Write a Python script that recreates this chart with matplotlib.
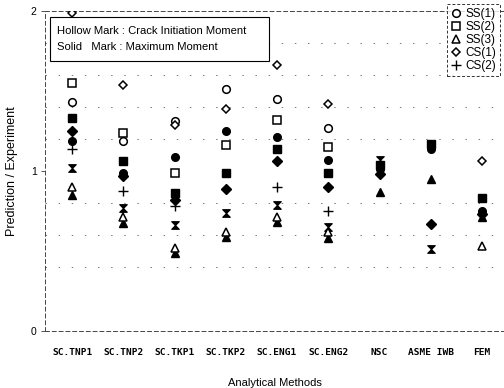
import numpy as np
import matplotlib
matplotlib.use("Agg")
import matplotlib.pyplot as plt
from matplotlib.path import Path
from matplotlib.patches import Rectangle

nan = np.nan
methods = ['SC.TNP1', 'SC.TNP2', 'SC.TKP1', 'SC.TKP2', 'SC.ENG1', 'SC.ENG2', 'NSC', 'ASME IWB', 'FEM']

# Hollow marks: crack initiation moment
hollow_ss1 = [1.43, 1.19, 1.31, 1.51, 1.45, 1.27, nan, nan, nan]
hollow_ss2 = [1.55, 1.24, 0.99, 1.16, 1.32, 1.15, nan, nan, nan]
hollow_ss3 = [0.90, 0.71, 0.52, 0.62, 0.71, 0.62, nan, nan, 0.53]
hollow_cs1 = [1.99, 1.54, 1.29, 1.39, 1.66, 1.42, nan, nan, 1.06]
hollow_cs2 = [1.14, 0.875, 0.78, nan, 0.90, 0.75, nan, nan, nan]

# Solid marks: maximum moment
solid_ss1 = [1.19, 0.99, 1.09, 1.25, 1.21, 1.07, 1.01, 1.14, 0.75]
solid_ss2 = [1.33, 1.06, 0.86, 0.99, 1.14, 0.99, 1.04, 1.17, 0.83]
solid_ss3 = [0.85, 0.675, 0.49, 0.59, 0.68, 0.58, 0.87, 0.95, 0.71]
solid_cs1 = [1.25, 0.97, 0.82, 0.89, 1.06, 0.90, 0.98, 0.67, 0.73]
solid_cs2 = [1.02, 0.77, 0.66, 0.74, 0.79, 0.65, 1.07, 0.51, nan]

legend_labels = ['SS(1)', 'SS(2)', 'SS(3)', 'CS(1)', 'CS(2)']

plt.rcParams['font.family'] = ['Liberation Sans', 'DejaVu Sans']

fig = plt.figure(figsize=(5.04, 3.88), dpi=100)
ax = fig.add_axes([45/504, 1-331/388, (504-45)/504, (331-11)/388])

x = np.arange(len(methods))

# hourglass marker for solid CS(2)
hourglass = Path([(-1, 1), (1, 1), (-1, -1), (1, -1), (-1, 1)],
                 [Path.MOVETO, Path.LINETO, Path.LINETO, Path.LINETO, Path.CLOSEPOLY])

ms = 5.5
# solid
ax.plot(x, solid_ss1, ls='none', marker='o', ms=ms, mfc='black', mec='black', zorder=3)
ax.plot(x, solid_ss2, ls='none', marker='s', ms=ms, mfc='black', mec='black', zorder=3)
ax.plot(x, solid_ss3, ls='none', marker='^', ms=ms, mfc='black', mec='black', zorder=3)
ax.plot(x, solid_cs1, ls='none', marker='D', ms=4.8, mfc='black', mec='black', zorder=3)
ax.plot(x, solid_cs2, ls='none', marker=hourglass, ms=5.5, mfc='black', mec='black', mew=0.8, zorder=3)

# hollow
h1, = ax.plot(x, hollow_ss1, ls='none', marker='o', ms=ms, mfc='white', mec='black', mew=1.1, zorder=4, label=legend_labels[0])
h2, = ax.plot(x, hollow_ss2, ls='none', marker='s', ms=ms, mfc='white', mec='black', mew=1.1, zorder=4, label=legend_labels[1])
h3, = ax.plot(x, hollow_ss3, ls='none', marker='^', ms=ms, mfc='white', mec='black', mew=1.1, zorder=4, label=legend_labels[2])
h4, = ax.plot(x, hollow_cs1, ls='none', marker='D', ms=4.4, mfc='white', mec='black', mew=1.1, zorder=4, label=legend_labels[3])
h5, = ax.plot(x, hollow_cs2, ls='none', marker='+', ms=6.5, mec='black', mew=1.0, zorder=4, label=legend_labels[4])

ax.set_xlim(-0.53, 8.43)
ax.set_ylim(0, 2)

# dotted grid lines
for gy in [0.4, 0.6, 0.8, 1.2, 1.4, 1.6, 1.8]:
    ax.axhline(gy, color='#777777', lw=0.7, ls=(0, (1.5, 12)), zorder=1)

ax.set_yticks([0, 1, 2])
ax.set_yticklabels(['0', '1', '2'], fontsize=7.5)
ax.set_xticks(x)
ax.set_xticklabels(methods, fontsize=6.8, family='DejaVu Sans Mono', fontweight='bold')
ax.tick_params(axis='x', length=0, pad=12)
ax.tick_params(axis='y', length=3, width=0.7, color='#555555', pad=3)

for side in ['left', 'top', 'bottom']:
    ax.spines[side].set_linestyle((0, (4, 3)))
    ax.spines[side].set_linewidth(0.7)
    ax.spines[side].set_color('#444444')
ax.spines['right'].set_visible(False)

ax.set_ylabel('Prediction / Experiment', fontsize=9, labelpad=9)
ax.set_xlabel('Analytical Methods', fontsize=8, labelpad=15)

# annotation box
fig.patches.append(Rectangle((50/504, 1-61/388), (269-50)/504, (61-17)/388,
                             transform=fig.transFigure, fc='white', ec='black',
                             lw=0.8, zorder=5))
fig.text(57/504, 1-39.5/388,
         'Hollow Mark : Crack Initiation Moment\nSolid   Mark : Maximum Moment',
         fontsize=8.1, va='center', ha='left', linespacing=1.75, zorder=6)

leg = fig.legend(handles=[h1, h2, h3, h4, h5], loc='upper left',
                 bbox_to_anchor=(447/504, 1-4/388), fontsize=8.5,
                 frameon=True, fancybox=False, handlelength=0.8, handletextpad=0.4,
                 borderpad=0.35, labelspacing=0.08, borderaxespad=0)
leg.get_frame().set_edgecolor('black')
leg.get_frame().set_linestyle((0, (3, 2)))
leg.get_frame().set_linewidth(0.7)

fig.savefig('out.png', dpi=100)
